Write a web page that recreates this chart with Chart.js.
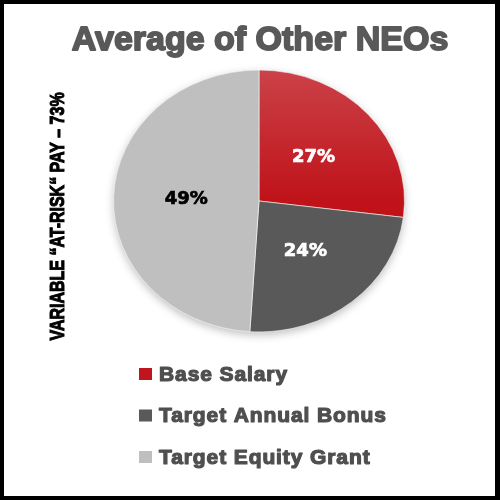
<!DOCTYPE html>
<html>
<head>
<meta charset="utf-8">
<script src="https://cdn.jsdelivr.net/npm/chart.js@4/dist/chart.umd.min.js"></script>
<style>
  html, body { margin: 0; padding: 0; background: #fff; }
  #wrap { position: relative; width: 500px; height: 500px; }
  #chart { position: absolute; left: 0; top: 0; }
  #frame {
    position: absolute; left: 0; top: 0; width: 500px; height: 500px;
    box-sizing: border-box; border-style: solid; border-color: #000;
    border-width: 4px 5px 4px 4px;
  }
</style>
</head>
<body>
<div id="wrap">
  <canvas id="chart" width="500" height="500"></canvas>
  <div id="frame"></div>
</div>
<script>
const titulo = 'Average of Other NEOs';
const textoLateral = 'VARIABLE “AT-RISK“ PAY – 73%';
const categorias = ['Base Salary', 'Target Annual Bonus', 'Target Equity Grant'];
const valores = [27, 24, 49];

const colores = ['#c0151c', '#595959', '#bfbfbf'];
const coloresEtiqueta = ['#ffffff', '#ffffff', '#000000'];
const aplanado = 0.9; // the pie is drawn a bit squashed, like the original

const chart = document.querySelector('#chart');

// squash the pie vertically and write the % labels
const elipse = {
    id: 'elipse',
    beforeDatasetsDraw(c) {
        const arc = c.getDatasetMeta(0).data[0];
        const ctx = c.ctx;
        // soft shadow under the pie
        ctx.save();
        ctx.shadowColor = 'rgba(0,0,0,0.25)';
        ctx.shadowBlur = 8;
        ctx.shadowOffsetY = 3;
        ctx.fillStyle = '#bfbfbf';
        ctx.beginPath();
        ctx.ellipse(arc.x, arc.y, arc.outerRadius, arc.outerRadius * aplanado, 0, 0, Math.PI * 2);
        ctx.fill();
        ctx.restore();

        ctx.save();
        ctx.translate(arc.x, arc.y);
        ctx.scale(1, aplanado);
        ctx.translate(-arc.x, -arc.y);
    },
    afterDatasetsDraw(c) {
        const ctx = c.ctx;
        ctx.restore();
        const meta = c.getDatasetMeta(0);
        ctx.save();
        ctx.font = 'bold 18px "DejaVu Sans"';
        ctx.textAlign = 'center';
        ctx.textBaseline = 'middle';
        ctx.lineWidth = 0.7;
        meta.data.forEach((arc, i) => {
            const p = arc.tooltipPosition();
            const y = arc.y + (p.y - arc.y) * aplanado;
            ctx.fillStyle = coloresEtiqueta[i];
            ctx.strokeStyle = coloresEtiqueta[i];
            ctx.fillText(valores[i] + '%', p.x, y);
            ctx.strokeText(valores[i] + '%', p.x, y);
        });
        ctx.restore();
    }
};

// title, rotated side text and the legend
const textos = {
    id: 'textos',
    afterDraw(c) {
        const ctx = c.ctx;
        ctx.save();
        ctx.fillStyle = '#595959';
        ctx.strokeStyle = '#595959';
        ctx.lineWidth = 1.8;
        ctx.lineJoin = 'round';
        ctx.font = 'bold 34px "Liberation Sans"';
        ctx.textAlign = 'center';
        ctx.textBaseline = 'alphabetic';
        ctx.fillText(titulo, 260, 50);
        ctx.strokeText(titulo, 260, 50);
        ctx.restore();

        ctx.save();
        ctx.translate(64, 216.5);
        ctx.rotate(-Math.PI / 2);
        ctx.scale(0.82, 1);
        ctx.fillStyle = '#000';
        ctx.strokeStyle = '#000';
        ctx.lineWidth = 1;
        ctx.font = 'bold 19.5px "Liberation Sans"';
        ctx.textAlign = 'center';
        ctx.textBaseline = 'alphabetic';
        ctx.fillText(textoLateral, 0, 0);
        ctx.strokeText(textoLateral, 0, 0);
        ctx.restore();

        ctx.save();
        ctx.font = 'bold 21px "Liberation Sans"';
        ctx.letterSpacing = '0.9px';
        ctx.textAlign = 'left';
        ctx.textBaseline = 'alphabetic';
        ctx.lineWidth = 1.2;
        ctx.lineJoin = 'round';
        categorias.forEach((cat, i) => {
            const cy = 374 + i * 41.5;
            ctx.fillStyle = colores[i];
            ctx.fillRect(139, cy - 6, 13, 12);
            ctx.fillStyle = '#4f4f4f';
            ctx.strokeStyle = '#4f4f4f';
            ctx.fillText(cat, 159, cy + 6.5);
            ctx.strokeText(cat, 159, cy + 6.5);
        });
        ctx.restore();
    }
};

new Chart(chart, {
    type: 'pie',
    data: {
        labels: categorias,
        datasets: [{
            data: valores,
            backgroundColor(ctx) {
                const area = ctx.chart.chartArea;
                if (ctx.dataIndex !== 0 || !area) return colores[ctx.dataIndex];
                const g = ctx.chart.ctx.createLinearGradient(0, area.top, 0, (area.top + area.bottom) / 2);
                g.addColorStop(0, '#cb4248');
                g.addColorStop(1, '#bf1219');
                return g;
            },
            borderColor: 'rgba(255,255,255,0.6)',
            borderWidth: 1
        }]
    },
    options: {
        responsive: false,
        animation: false,
        layout: {
            padding: { left: 113, right: 95, top: 55, bottom: 153 }
        },
        plugins: {
            legend: { display: false },
            tooltip: { enabled: false }
        }
    },
    plugins: [elipse, textos]
});
</script>
</body>
</html>
